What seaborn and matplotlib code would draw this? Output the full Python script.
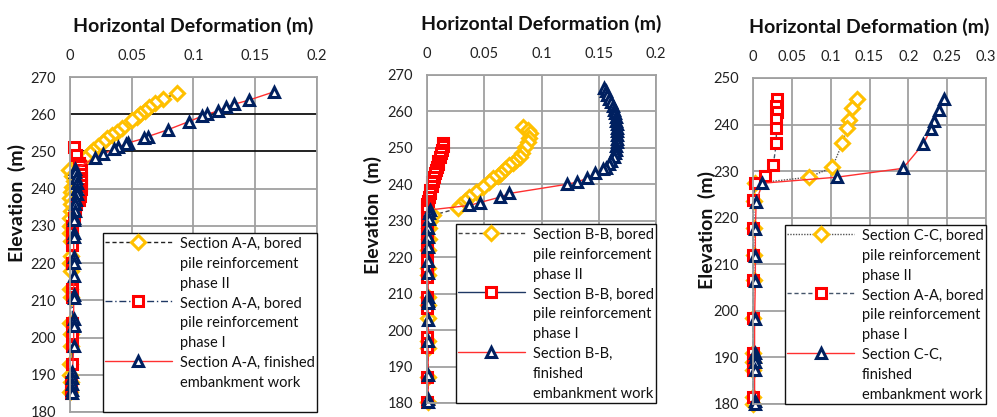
import matplotlib
matplotlib.use("Agg")
import matplotlib.pyplot as plt
from matplotlib.lines import Line2D
import seaborn as sns

# ---------------- Section A-A ----------------
aa_p2_x = [0.087, 0.075, 0.069, 0.064, 0.061, 0.057, 0.054, 0.050, 0.042, 0.038, 0.034, 0.030,
           0.027, 0.023, 0.019, 0.016, 0.012, 0.008, 0.004, -0.001, 0.002, 0.003, 0.002, 0.001,
           0.000, 0.001, 0.001, 0.000, 0.000, 0.000, 0.001, 0.001, 0.000, 0.001, 0.000, 0.001,
           0.000, 0.001, 0.001, 0.000, 0.000, 0.001, 0.000]
aa_p2_y = [265.7, 264.1, 263.0, 262.0, 261.0, 260.0, 259.3, 258.4, 256.3, 255.3, 254.4, 253.5,
           252.6, 251.4, 250.3, 249.5, 248.3, 247.2, 246.2, 245.0, 243.5, 242.0, 240.5, 239.0,
           237.5, 236.0, 234.0, 232.0, 230.0, 228.0, 226.0, 222.0, 220.0, 218.0, 213.0, 211.0,
           204.0, 201.0, 197.6, 193.0, 190.0, 188.0, 185.5]

aa_p1_x = [0.003, 0.005, 0.007, 0.008, 0.009, 0.009, 0.009, 0.009, 0.009, 0.009, 0.008, 0.008,
           0.007, 0.005, 0.004, 0.003, 0.002, 0.002, 0.002, 0.002, 0.002, 0.002, 0.002, 0.002,
           0.002, 0.002, 0.002, 0.002, 0.001, 0.001, 0.001]
aa_p1_y = [251.3, 249.0, 247.0, 246.0, 245.0, 244.0, 243.0, 242.0, 241.0, 240.0, 239.0, 238.0,
           237.0, 236.0, 234.0, 232.0, 230.0, 228.0, 226.0, 225.0, 220.0, 213.0, 212.0, 211.0,
           204.0, 201.0, 197.6, 193.0, 188.0, 186.5, 185.0]

aa_fin_x = [0.165, 0.145, 0.133, 0.126, 0.120, 0.111, 0.107, 0.096, 0.079, 0.063, 0.060, 0.047,
            0.045, 0.039, 0.036, 0.027, 0.020, 0.004, 0.004, 0.005, 0.006, 0.006, 0.006, 0.005,
            0.004, 0.004, 0.003, 0.003, 0.003, 0.003, 0.003, 0.003, 0.003, 0.003, 0.003, 0.003,
            0.003, 0.003, 0.003, 0.002, 0.002, 0.002, 0.002, 0.002]
aa_fin_y = [266.0, 263.8, 262.7, 261.9, 260.9, 260.0, 259.5, 258.0, 255.8, 254.0, 253.5, 252.3,
            252.0, 251.2, 250.6, 249.4, 248.2, 245.2, 244.5, 243.0, 241.5, 240.0, 238.5, 237.0,
            236.0, 234.0, 232.0, 231.5, 228.0, 227.0, 221.7, 220.0, 216.6, 211.5, 210.5, 205.0,
            203.5, 203.0, 197.6, 190.7, 189.0, 187.5, 186.0, 185.0]

# ---------------- Section B-B ----------------
bb_p2_x = [0.084, 0.088, 0.090, 0.089, 0.088, 0.086, 0.083, 0.081, 0.078, 0.075, 0.072, 0.068,
           0.065, 0.062, 0.058, 0.054, 0.049, 0.043, 0.037, 0.033, 0.029, 0.027, 0.005, 0.003,
           0.002, 0.002, 0.001, 0.001, 0.001, 0.001, 0.001, 0.001, 0.001, 0.001, 0.001, 0.001]
bb_p2_y = [255.7, 254.8, 254.0, 252.8, 251.5, 250.2, 248.5, 247.5, 246.6, 245.8, 245.2, 244.2,
           243.0, 242.4, 241.7, 240.5, 239.2, 237.8, 236.5, 235.3, 234.3, 233.4, 231.5, 230.0,
           228.0, 225.0, 222.0, 217.0, 215.0, 209.0, 207.0, 203.3, 197.0, 195.0, 187.0, 180.2]

bb_p1_x = [0.014, 0.014, 0.013, 0.012, 0.011, 0.010, 0.010, 0.009, 0.008, 0.007, 0.006, 0.005,
           0.004, 0.004, 0.003, 0.003, 0.002, 0.001, 0.000, 0.000, 0.000, 0.000, 0.000, 0.000,
           0.000, 0.000, 0.000, 0.000, 0.000, 0.000, 0.000, 0.000, 0.000, 0.000, 0.000, 0.000,
           0.000, 0.000]
bb_p1_y = [251.3, 250.5, 249.5, 248.5, 247.5, 246.5, 245.5, 244.8, 244.0, 243.0, 242.0, 241.0,
           240.5, 239.5, 238.5, 237.5, 236.5, 235.5, 234.5, 233.7, 233.0, 231.0, 229.0, 227.0,
           225.5, 224.5, 222.0, 219.0, 217.0, 214.5, 209.0, 207.5, 206.0, 198.0, 196.5, 195.3,
           187.0, 180.2]

bb_fin_x = [0.155, 0.156, 0.157, 0.159, 0.161, 0.162, 0.163, 0.164, 0.165, 0.165, 0.166, 0.166,
            0.166, 0.166, 0.166, 0.166, 0.165, 0.165, 0.164, 0.163, 0.161, 0.159, 0.156, 0.154,
            0.147, 0.140, 0.131, 0.122, 0.072, 0.064, 0.046, 0.037, 0.003, 0.002, 0.002, 0.001,
            0.001, 0.001, 0.001, 0.001, 0.001, 0.001, 0.001, 0.001, 0.001, 0.001, 0.001, 0.001]
bb_fin_y = [266.4, 265.5, 264.5, 263.5, 262.5, 261.5, 260.5, 259.5, 258.5, 257.5, 256.5, 255.5,
            254.5, 253.5, 252.5, 251.5, 250.5, 249.5, 248.5, 247.5, 246.5, 245.5, 244.6, 244.2,
            243.0, 241.7, 240.6, 240.0, 237.5, 236.5, 235.0, 234.2, 233.0, 232.0, 230.5, 228.0,
            225.5, 222.7, 219.0, 215.6, 209.0, 208.0, 207.4, 202.7, 197.0, 187.6, 181.0, 180.3]

# ---------------- Section C-C ----------------
cc_p2_x = [0.134, 0.128, 0.124, 0.121, 0.115, 0.102, 0.072, 0.003, 0.001, 0.001, 0.001, 0.001,
           0.000, 0.000, 0.000, 0.000, 0.000, 0.000]
cc_p2_y = [245.5, 243.5, 241.0, 239.2, 236.0, 230.8, 228.7, 227.4, 223.6, 217.7, 212.0, 206.6,
           198.4, 191.0, 189.0, 187.2, 181.4, 180.0]

cc_p1_x = [0.031, 0.030, 0.031, 0.030, 0.030, 0.030, 0.026, 0.016, 0.003, 0.000, 0.000, 0.000,
           0.000, 0.000, 0.000, 0.000, 0.000, 0.000, 0.000]
cc_p1_y = [245.5, 244.0, 242.6, 241.1, 239.3, 236.0, 231.3, 229.0, 227.4, 223.8, 217.7, 212.0,
           206.6, 198.4, 191.0, 189.5, 188.0, 187.2, 181.4]

cc_fin_x = [0.246, 0.240, 0.233, 0.229, 0.219, 0.193, 0.108, 0.012, 0.004, 0.003, 0.003, 0.003,
            0.002, 0.002, 0.002, 0.002, 0.002, 0.002, 0.002]
cc_fin_y = [245.5, 243.1, 240.8, 239.0, 235.8, 230.6, 228.7, 227.4, 223.3, 217.5, 211.8, 206.4,
            198.3, 191.0, 190.0, 189.0, 187.3, 180.7, 180.0]

labels_aa = [["Section A-A, bored", "pile reinforcement", "phase II"],
             ["Section A-A, bored", "pile reinforcement", "phase I"],
             ["Section A-A, finished", "embankment work"]]
labels_bb = [["Section B-B, bored", "pile reinforcement", "phase II"],
             ["Section B-B, bored", "pile reinforcement", "phase I"],
             ["Section B-B,", "finished", "embankment work"]]
labels_cc = [["Section C-C, bored", "pile reinforcement", "phase II"],
             ["Section A-A, bored", "pile reinforcement", "phase I"],
             ["Section C-C,", "finished", "embankment work"]]

YELLOW = "#FFC000"
RED = "#FF0000"
NAVY = "#002060"
GRID = "#A0A0A0"

sns.set_style("white")
plt.rcParams["font.family"] = ["Lato", "DejaVu Sans"]

fig = plt.figure(figsize=(9.97, 4.17), dpi=100)

panels = [
    dict(rect=[0.0702, 0.0120, 0.2477, 0.8033], xlim=(0, 0.2), ylim=(180, 270),
         xticks=[0, 0.05, 0.1, 0.15, 0.2], yticks=list(range(180, 271, 10)),
         series=[(aa_p2_x, aa_p2_y, "D", YELLOW, "#222222", (0, (3, 2)), 6.8),
                 (aa_p1_x, aa_p1_y, "s", RED, "#1F3864", (0, (5, 2, 1, 2)), 7.0),
                 (aa_fin_x, aa_fin_y, "^", NAVY, "#FF3030", "-", 7.5)],
         labels=labels_aa, ylab=(-0.215, 0.624), pad_rows=1),
    dict(rect=[0.4283, 0.0336, 0.2297, 0.7866], xlim=(0, 0.2), ylim=(180, 270),
         xticks=[0, 0.05, 0.1, 0.15, 0.2], yticks=list(range(180, 271, 10)),
         series=[(bb_p2_x, bb_p2_y, "D", YELLOW, "#444444", (0, (3, 2)), 6.8),
                 (bb_p1_x, bb_p1_y, "s", RED, "#1F3864", "-", 7.0),
                 (bb_fin_x, bb_fin_y, "^", NAVY, "#FF3030", "-", 7.5)],
         labels=labels_bb, ylab=(-0.236, 0.573), pad_rows=0),
    dict(rect=[0.7553, 0.0312, 0.2337, 0.7818], xlim=(0, 0.3), ylim=(180, 250),
         xticks=[0, 0.05, 0.1, 0.15, 0.2, 0.25, 0.3], yticks=list(range(180, 251, 10)),
         series=[(cc_p2_x, cc_p2_y, "D", YELLOW, "#555555", (0, (1, 1)), 6.8),
                 (cc_p1_x, cc_p1_y, "s", RED, "#44546A", (0, (3, 2)), 7.0),
                 (cc_fin_x, cc_fin_y, "^", NAVY, "#FF3030", "-", 7.5)],
         labels=labels_cc, ylab=(-0.197, 0.534), pad_rows=0),
]

for i, p in enumerate(panels):
    ax = fig.add_axes(p["rect"])
    ax.set_facecolor("white")
    handles = []
    for xs, ys, mk, mcol, lcol, ls, ms in p["series"]:
        sns.lineplot(x=xs, y=ys, sort=False, estimator=None, ax=ax, color=lcol,
                     linestyle=ls, linewidth=1.0, marker=mk, markersize=ms,
                     markerfacecolor="white", markeredgecolor=mcol,
                     markeredgewidth=2.2, clip_on=False, legend=False)
        handles.append(ax.lines[-1])
    ax.set_xlim(*p["xlim"])
    ax.set_ylim(*p["ylim"])
    ax.set_xticks(p["xticks"])
    ax.set_xticklabels([f"{t:g}" for t in p["xticks"]])
    ax.set_yticks(p["yticks"])
    ax.xaxis.tick_top()
    ax.xaxis.set_label_position("top")
    ax.tick_params(length=0, labelsize=10.5, pad=10, colors="#222222")
    ax.grid(True, color=GRID, linewidth=1.3)
    ax.set_axisbelow(True)
    for s in ax.spines.values():
        s.set_color(GRID)
        s.set_linewidth(1.3)
    if i == 0:
        for gl, val in zip(ax.get_ygridlines(), p["yticks"]):
            if val in (250, 260):
                gl.set_color("#111111")
    ax.set_xlabel("Horizontal Deformation (m)", fontsize=14, fontweight="bold",
                  labelpad=12, color="#111111")
    ax.set_ylabel("Elevation  (m)", fontsize=14, fontweight="bold", color="#111111")
    ax.yaxis.label.set_va("center")
    ax.yaxis.set_label_coords(*p["ylab"])

    # wrapped legend labels: the sample sits beside the first line only
    leg_handles, leg_texts = [], []
    for h, lines in zip(handles, p["labels"]):
        leg_handles.append(h)
        leg_texts.append(lines[0])
        for extra in lines[1:]:
            leg_handles.append(Line2D([], [], linestyle="none"))
            leg_texts.append(extra)
    for _ in range(p["pad_rows"]):
        leg_handles.append(Line2D([], [], linestyle="none"))
        leg_texts.append(" ")
    leg = ax.legend(leg_handles, leg_texts, loc="lower right", bbox_to_anchor=(1.0, 0.0),
                    borderaxespad=0.0, fontsize=10.5, frameon=True, fancybox=False,
                    edgecolor="#111111", framealpha=1.0, handlelength=4.6,
                    handleheight=1.22, handletextpad=0.55, labelspacing=0.30,
                    borderpad=0.15)
    for t in leg.get_texts():
        t.set_color("#111111")
    leg.get_frame().set_linewidth(1.0)
    leg.set_zorder(10)

fig.savefig("out.png", dpi=100)
